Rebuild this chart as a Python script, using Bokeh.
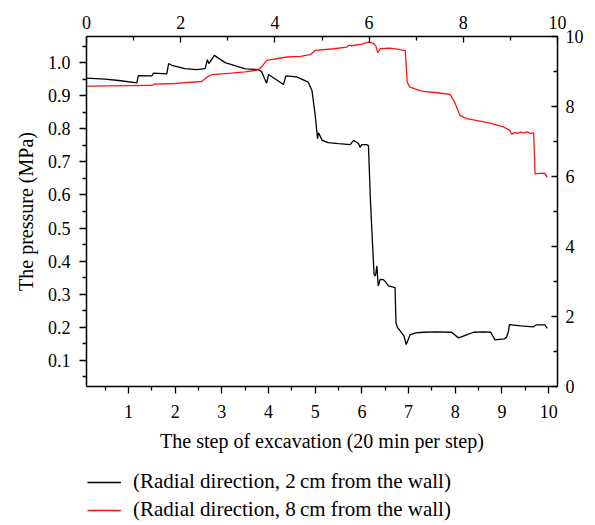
from bokeh.plotting import figure
from bokeh.layouts import column
from bokeh.models import (Range1d, LinearAxis, FixedTicker, Legend, LegendItem,
                          PrintfTickFormatter)
from bokeh.embed import file_html
from bokeh.resources import INLINE

# ---- data (step of excavation, pressure in MPa) ----
x_2cm = [0.10, 0.50, 0.79, 1.18, 1.21, 1.50, 1.535, 1.82, 1.86, 1.93,
         2.21, 2.46, 2.64, 2.69, 2.72, 2.84, 3.07, 3.50, 3.78, 3.85,
         3.92, 3.96, 4.00, 4.15, 4.32, 4.37, 4.60, 4.85, 4.93, 5.00,
         5.05, 5.07, 5.15, 5.28, 5.50, 5.75, 5.82, 5.88, 5.93, 5.96,
         6.00, 6.10, 6.14, 6.18, 6.21, 6.26, 6.29, 6.32, 6.35, 6.39,
         6.46, 6.52, 6.57, 6.71, 6.73, 6.76, 6.82, 6.90, 6.95, 7.03,
         7.15, 7.32, 7.60, 7.92, 8.07, 8.20, 8.39, 8.60, 8.76, 8.85,
         9.05, 9.10, 9.14, 9.16, 9.40, 9.67, 9.73, 9.92, 9.97]
p_2cm = [0.953, 0.950, 0.946, 0.939, 0.961, 0.960, 0.968, 0.966, 0.997, 0.992,
         0.982, 0.979, 0.982, 1.009, 0.997, 1.022, 1.000, 0.981, 0.979, 0.973,
         0.950, 0.938, 0.964, 0.950, 0.934, 0.960, 0.957, 0.941, 0.916, 0.840,
         0.770, 0.788, 0.765, 0.758, 0.755, 0.752, 0.765, 0.760, 0.755, 0.744,
         0.752, 0.752, 0.749, 0.593, 0.502, 0.360, 0.355, 0.386, 0.325, 0.345,
         0.344, 0.335, 0.325, 0.320, 0.214, 0.200, 0.189, 0.174, 0.148, 0.177,
         0.183, 0.185, 0.186, 0.185, 0.168, 0.175, 0.185, 0.186, 0.185, 0.162,
         0.165, 0.170, 0.189, 0.208, 0.204, 0.201, 0.207, 0.207, 0.197]

x_8cm = [0.10, 1.50, 1.55, 2.00, 2.57, 2.68, 2.79, 3.20, 3.50, 3.78,
         3.87, 3.96, 4.39, 4.68, 4.89, 5.00, 5.40, 5.68, 5.72, 5.78,
         6.00, 6.14, 6.25, 6.30, 6.34, 6.39, 6.60, 6.75, 6.93, 6.97,
         7.03, 7.28, 7.60, 7.89, 8.00, 8.10, 8.25, 8.50, 8.75, 9.03,
         9.17, 9.21, 9.27, 9.32, 9.40, 9.46, 9.53, 9.60, 9.68, 9.71,
         9.80, 9.92, 9.97]
p_8cm = [0.929, 0.931, 0.935, 0.937, 0.943, 0.956, 0.964, 0.968, 0.972, 0.978,
         0.990, 1.007, 1.017, 1.019, 1.024, 1.037, 1.042, 1.047, 1.053, 1.051,
         1.056, 1.062, 1.058, 1.050, 1.030, 1.042, 1.044, 1.041, 1.036, 0.941,
         0.926, 0.914, 0.909, 0.904, 0.876, 0.840, 0.831, 0.824, 0.817, 0.806,
         0.795, 0.783, 0.789, 0.786, 0.790, 0.787, 0.791, 0.786, 0.788, 0.664,
         0.665, 0.666, 0.653]

labels = ["(Radial direction, 2\u2009cm from the wall)",
          "(Radial direction, 8\u2009cm from the wall)"]
colors = ["#000000", "#ff1414"]

bottom_ticks = [1, 2, 3, 4, 5, 6, 7, 8, 9, 10]
left_ticks = [0.1, 0.2, 0.3, 0.4, 0.5, 0.6, 0.7, 0.8, 0.9, 1.0]
top_ticks = [0, 2, 4, 6, 8, 10]
right_ticks = [0, 2, 4, 6, 8, 10]

FONT = "Liberation Serif"
FS = "18px"

p = figure(width=590, height=466, output_backend="svg", toolbar_location=None,
           x_range=Range1d(0.1, 10.19), y_range=Range1d(0.021, 1.079),
           min_border_left=86, min_border_right=33, min_border_top=36,
           min_border_bottom=80)
p.extra_x_ranges = {"top": Range1d(0, 10)}
p.extra_y_ranges = {"right": Range1d(0, 10)}
p.grid.visible = False
p.outline_line_color = None
p.background_fill_color = "white"
p.border_fill_color = "white"

r1 = p.line(x_2cm, p_2cm, line_color=colors[0], line_width=1.3)
r2 = p.line(x_8cm, p_8cm, line_color=colors[1], line_width=1.3)


def style(ax, tin, tout, min_in, min_out, standoff):
    ax.axis_line_color = "black"
    ax.axis_line_width = 1.5
    ax.major_tick_line_color = "black"
    ax.minor_tick_line_color = "black"
    ax.major_tick_line_width = 1.3
    ax.minor_tick_line_width = 1.3
    ax.major_tick_in = tin
    ax.major_tick_out = tout
    ax.minor_tick_in = min_in
    ax.minor_tick_out = min_out
    ax.major_label_text_font = FONT
    ax.major_label_text_font_size = FS
    ax.major_label_text_color = "black"
    ax.major_label_standoff = standoff
    ax.axis_label_text_font = FONT
    ax.axis_label_text_font_style = "normal"
    ax.axis_label_text_color = "black"


xa = p.xaxis[0]
xa.ticker = FixedTicker(ticks=bottom_ticks,
                        minor_ticks=[t - 0.5 for t in bottom_ticks])
xa.axis_label = "The step of excavation (20 min per step)"
style(xa, 0, 7, 0, 4, 11)
xa.axis_label_text_font_size = "20px"
xa.axis_label_standoff = 9

ya = p.yaxis[0]
ya.ticker = FixedTicker(ticks=left_ticks,
                        minor_ticks=[round(t - 0.05, 2) for t in left_ticks] + [1.05])
ya.formatter = PrintfTickFormatter(format="%.1f")
ya.axis_label = "The pressure (MPa)"
style(ya, 0, 7, 0, 4, 9)
ya.axis_label_text_font_size = "20px"
ya.axis_label_standoff = 8

ta = LinearAxis(x_range_name="top",
                ticker=FixedTicker(ticks=top_ticks, minor_ticks=[1, 3, 5, 7, 9]))
style(ta, 6, 0, 4, 0, 8)
p.add_layout(ta, "above")

ra = LinearAxis(y_range_name="right",
                ticker=FixedTicker(ticks=right_ticks, minor_ticks=[1, 3, 5, 7, 9]))
style(ra, 6, 0, 4, 0, 8)
p.add_layout(ra, "right")

# ---- legend strip below the chart (its frame aligns with the chart's) ----
q = figure(width=590, height=56, output_backend="svg", toolbar_location=None,
           x_range=Range1d(0, 1), y_range=Range1d(0, 1),
           min_border_left=0, min_border_right=0,
           min_border_top=0, min_border_bottom=0)
q.axis.visible = False
q.grid.visible = False
q.outline_line_color = None
q.background_fill_color = "white"
q.border_fill_color = "white"
# key renderers sit outside the strip's visible range; only their legend glyphs show
k1 = q.line([-5, -4], [-5, -5], line_color=colors[0], line_width=1.3)
k2 = q.line([-5, -4], [-5, -5], line_color=colors[1], line_width=1.3)

legend = Legend(items=[LegendItem(label=labels[0], renderers=[k1]),
                       LegendItem(label=labels[1], renderers=[k2])],
                location=(1, 0), orientation="vertical")
legend.border_line_color = None
legend.background_fill_alpha = 0
legend.padding = 0
legend.margin = 0
legend.spacing = 3
legend.glyph_width = 34
legend.glyph_height = 24
legend.label_height = 24
legend.label_standoff = 12
legend.label_text_font = FONT
legend.label_text_font_size = "21px"
legend.label_text_color = "black"
q.add_layout(legend, "center")

open("out.html", "w").write(file_html(column(p, q, spacing=0), INLINE))
